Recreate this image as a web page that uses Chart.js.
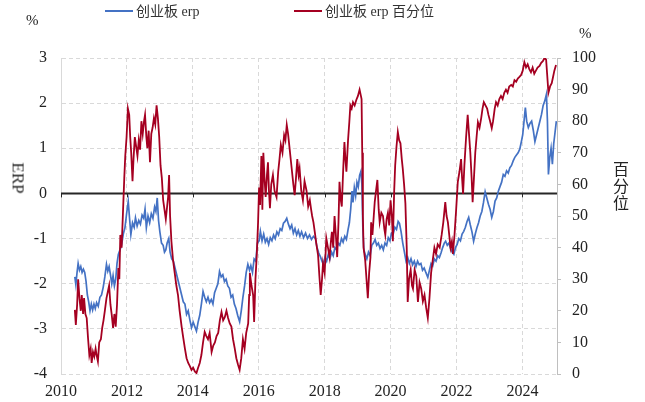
<!DOCTYPE html>
<html>
<head>
<meta charset="utf-8">
<script src="https://cdn.jsdelivr.net/npm/chart.js@4"></script>
<style>
  body { margin: 0; background: #fff; }
  #wrap { position: relative; width: 645px; height: 402px; font-family: 'Liberation Serif', 'Noto Sans CJK SC', serif; color: #222; }
  #wrap canvas { position: absolute; left: 0; top: 0; }
  .lab { position: absolute; white-space: nowrap; }
  .leg { position: absolute; top: 2px; font-size: 14px; line-height: 20px; color: #333; }
  .leg i { display: inline-block; width: 28px; height: 2px; vertical-align: middle; margin-right: 3px; position: relative; top: -2px; }
</style>
</head>
<body>
<div id="wrap">
  <canvas id="chart" width="645" height="402"></canvas>
  <div class="leg" style="left:105px"><i style="background:#4472C4"></i>创业板 erp</div>
  <div class="leg" style="left:294px"><i style="background:#A50021"></i>创业板 erp 百分位</div>
  <div class="lab" style="left:26px; top:12px; font-size:15px">%</div>
  <div class="lab" style="left:579px; top:25px; font-size:15px">%</div>
  <div class="lab" style="left:2px; top:168px; font-size:17px; font-weight:normal; transform: rotate(90deg); transform-origin: 50% 50%;">ERP</div>
  <div class="lab" style="left:613px; top:160px; font-size:16px; line-height:17px; font-family:'Noto Sans CJK SC', sans-serif; white-space:normal; width:17px">百<br>分<br>位</div>
</div>
<script>
/* ── 数据 ── */
const xTicks = [2010, 2012, 2014, 2016, 2018, 2020, 2022, 2024];
const leftTicks  = [-4, -3, -2, -1, 0, 1, 2, 3];
const rightTicks = [0, 10, 20, 30, 40, 50, 60, 70, 80, 90, 100];

const erpYears = [
  2010.42,2010.45,2010.49,2010.52,2010.56,2010.60,2010.64,2010.68,2010.72,2010.76,2010.80,2010.84,2010.88,2010.92,2010.96,
  2011.00,2011.04,2011.08,2011.13,2011.18,2011.23,2011.28,2011.33,2011.38,2011.42,2011.46,2011.50,2011.54,2011.58,2011.62,
  2011.66,2011.70,2011.74,2011.79,2011.84,2011.89,2011.94,2011.99,2012.04,2012.08,2012.12,2012.17,2012.22,2012.26,2012.31,
  2012.36,2012.41,2012.46,2012.51,2012.55,2012.59,2012.64,2012.69,2012.74,2012.79,2012.84,2012.88,2012.92,2012.96,2013.00,
  2013.05,2013.10,2013.14,2013.18,2013.22,2013.27,2013.31,2013.36,2013.41,2013.46,2013.51,2013.56,2013.61,2013.66,2013.71,
  2013.76,2013.81,2013.86,2013.91,2013.96,2014.01,2014.06,2014.11,2014.16,2014.21,2014.26,2014.31,2014.36,2014.41,2014.46,
  2014.51,2014.56,2014.61,2014.66,2014.71,2014.76,2014.81,2014.86,2014.91,2014.96,2015.01,2015.06,2015.11,2015.16,2015.21,
  2015.26,2015.31,2015.36,2015.42,2015.47,2015.52,2015.57,2015.62,2015.67,2015.72,2015.76,2015.81,2015.86,2015.91,2015.96,
  2016.01,2016.05,2016.10,2016.15,2016.20,2016.25,2016.30,2016.35,2016.40,2016.45,2016.50,2016.55,2016.60,2016.65,2016.70,
  2016.75,2016.80,2016.85,2016.90,2016.95,2017.00,2017.05,2017.10,2017.15,2017.20,2017.25,2017.30,2017.36,2017.42,2017.48,
  2017.54,2017.60,2017.66,2017.72,2017.77,2017.82,2017.87,2017.92,2017.96,2018.01,2018.06,2018.11,2018.16,2018.21,2018.26,
  2018.31,2018.36,2018.41,2018.46,2018.51,2018.56,2018.61,2018.66,2018.71,2018.75,2018.79,2018.83,2018.86,2018.90,2018.94,
  2018.98,2019.02,2019.06,2019.10,2019.13,2019.16,2019.19,2019.23,2019.28,2019.33,2019.38,2019.43,2019.48,2019.53,2019.58,
  2019.63,2019.68,2019.73,2019.78,2019.83,2019.88,2019.93,2019.98,2020.03,2020.08,2020.13,2020.18,2020.23,2020.27,2020.32,
  2020.37,2020.42,2020.47,2020.52,2020.57,2020.62,2020.67,2020.72,2020.77,2020.82,2020.87,2020.92,2020.97,2021.02,2021.07,
  2021.13,2021.18,2021.23,2021.28,2021.33,2021.38,2021.43,2021.48,2021.53,2021.58,2021.63,2021.67,2021.72,2021.77,2021.82,
  2021.87,2021.92,2021.97,2022.02,2022.07,2022.12,2022.17,2022.22,2022.27,2022.32,2022.37,2022.42,2022.47,2022.52,2022.57,
  2022.62,2022.67,2022.72,2022.77,2022.82,2022.87,2022.92,2022.97,2023.02,2023.07,2023.12,2023.17,2023.22,2023.27,2023.32,
  2023.37,2023.42,2023.47,2023.52,2023.57,2023.62,2023.67,2023.72,2023.77,2023.82,2023.87,2023.92,2023.97,2024.01,2024.05,
  2024.09,2024.13,2024.18,2024.23,2024.28,2024.33,2024.38,2024.43,2024.48,2024.53,2024.58,2024.63,2024.68,2024.73,2024.76,
  2024.79,2024.83,2024.87,2024.91,2024.95,2024.99,2025.03
];
const erpValues = [
  -1.85,-2.02,-1.73,-1.55,-1.70,-1.62,-1.75,-1.68,-1.75,-1.95,-2.25,-2.40,-2.60,-2.45,-2.58,
  -2.45,-2.55,-2.42,-2.50,-2.30,-2.25,-2.08,-1.85,-1.57,-1.72,-1.62,-1.80,-2.00,-1.82,-2.05,
  -1.90,-1.55,-1.35,-1.25,-1.13,-0.90,-0.76,-0.45,-0.18,-0.55,-0.91,-0.65,-0.75,-0.54,-0.72,
  -0.60,-0.68,-0.48,-0.55,-0.35,-0.76,-0.50,-0.65,-0.45,-0.55,-0.30,-0.40,-0.10,-0.60,-0.85,
  -1.10,-1.15,-1.30,-1.25,-1.10,-1.00,-1.30,-1.45,-1.50,-1.65,-1.80,-1.95,-2.10,-2.25,-2.40,
  -2.45,-2.68,-2.60,-2.80,-2.97,-2.85,-2.95,-3.05,-2.85,-2.70,-2.45,-2.17,-2.30,-2.40,-2.30,
  -2.42,-2.35,-2.45,-2.20,-2.10,-2.00,-1.73,-1.85,-1.80,-1.95,-1.90,-2.05,-2.10,-2.30,-2.25,
  -2.45,-2.55,-2.70,-2.84,-2.60,-2.30,-2.05,-1.75,-1.57,-1.70,-1.60,-1.75,-1.45,-1.50,-1.10,
  -1.05,-0.84,-1.05,-0.90,-1.08,-1.00,-1.13,-0.98,-1.05,-0.92,-1.00,-0.85,-0.92,-0.78,-0.82,
  -0.66,-0.62,-0.55,-0.68,-0.78,-0.70,-0.88,-0.78,-0.92,-0.82,-0.95,-0.85,-0.98,-0.88,-1.00,
  -0.92,-1.02,-0.95,-1.00,-1.20,-1.32,-1.40,-1.50,-1.57,-1.42,-1.50,-1.35,-1.45,-1.30,-1.38,
  -1.20,-1.25,-1.10,-1.15,-1.00,-1.08,-0.95,-1.02,-0.80,-0.65,-0.35,0.05,-0.20,0.13,-0.05,
  0.25,0.15,0.40,0.49,0.20,-0.80,-1.25,-1.35,-1.45,-1.30,-1.38,-1.15,-1.10,-1.02,-1.15,
  -1.10,-1.22,-1.15,-1.25,-1.10,-1.15,-0.98,-1.05,-0.88,-0.90,-0.75,-0.80,-0.62,-0.66,-0.85,
  -1.10,-1.30,-1.50,-1.42,-1.55,-1.45,-1.58,-1.50,-1.62,-1.50,-1.58,-1.55,-1.70,-1.65,-1.75,
  -1.86,-1.70,-1.55,-1.60,-1.45,-1.50,-1.38,-1.42,-1.32,-1.20,-1.10,-1.06,-1.15,-1.10,-1.22,
  -1.30,-1.35,-1.20,-1.13,-1.00,-1.05,-0.90,-0.84,-0.75,-0.62,-0.53,-0.70,-0.85,-1.06,-0.90,
  -0.76,-0.65,-0.50,-0.40,-0.20,0.04,-0.10,-0.24,-0.35,-0.53,-0.40,-0.17,-0.10,0.05,0.15,
  0.25,0.42,0.38,0.50,0.45,0.57,0.62,0.72,0.80,0.85,0.90,0.98,1.15,1.30,1.60,
  1.90,1.60,1.46,1.55,1.60,1.40,1.15,1.30,1.45,1.60,1.75,1.95,2.05,2.20,1.60,
  0.42,0.80,1.00,0.65,1.10,1.35,1.60
];

const pctYears = [
  2010.42,2010.45,2010.49,2010.52,2010.56,2010.60,2010.63,2010.67,2010.70,2010.74,2010.78,2010.82,2010.86,2010.90,2010.93,
  2010.97,2011.01,2011.05,2011.08,2011.12,2011.16,2011.21,2011.25,2011.29,2011.33,2011.38,2011.42,2011.46,2011.50,2011.54,
  2011.58,2011.62,2011.66,2011.70,2011.74,2011.77,2011.80,2011.84,2011.88,2011.92,2011.95,2011.99,2012.03,2012.07,2012.10,
  2012.13,2012.17,2012.20,2012.24,2012.28,2012.32,2012.36,2012.40,2012.44,2012.48,2012.52,2012.55,2012.59,2012.62,2012.66,
  2012.70,2012.74,2012.78,2012.82,2012.86,2012.90,2012.94,2012.98,2013.02,2013.06,2013.10,2013.14,2013.18,2013.22,2013.25,
  2013.28,2013.31,2013.35,2013.40,2013.45,2013.50,2013.55,2013.60,2013.66,2013.71,2013.76,2013.81,2013.86,2013.91,2013.96,
  2014.01,2014.06,2014.11,2014.16,2014.21,2014.26,2014.31,2014.36,2014.41,2014.46,2014.51,2014.57,2014.62,2014.67,2014.72,
  2014.77,2014.82,2014.87,2014.92,2014.97,2015.02,2015.07,2015.12,2015.17,2015.22,2015.27,2015.32,2015.37,2015.42,2015.47,
  2015.52,2015.57,2015.62,2015.68,2015.71,2015.73,2015.78,2015.83,2015.86,2015.90,2015.94,2015.98,2016.01,2016.04,2016.08,
  2016.11,2016.14,2016.18,2016.21,2016.25,2016.28,2016.31,2016.34,2016.38,2016.43,2016.48,2016.54,2016.59,2016.63,2016.67,
  2016.72,2016.77,2016.81,2016.85,2016.89,2016.94,2016.98,2017.01,2017.05,2017.09,2017.13,2017.17,2017.21,2017.24,2017.29,
  2017.34,2017.39,2017.45,2017.50,2017.55,2017.59,2017.62,2017.66,2017.70,2017.75,2017.80,2017.84,2017.88,2017.92,2017.95,
  2018.00,2018.05,2018.10,2018.15,2018.19,2018.22,2018.26,2018.30,2018.34,2018.38,2018.42,2018.45,2018.49,2018.52,2018.56,
  2018.60,2018.63,2018.66,2018.69,2018.71,2018.75,2018.78,2018.82,2018.86,2018.91,2018.96,2019.01,2019.06,2019.10,2019.12,
  2019.14,2019.16,2019.18,2019.23,2019.27,2019.31,2019.35,2019.39,2019.41,2019.45,2019.49,2019.52,2019.56,2019.60,2019.64,
  2019.67,2019.72,2019.77,2019.81,2019.84,2019.88,2019.92,2019.96,2020.00,2020.04,2020.07,2020.11,2020.14,2020.18,2020.22,
  2020.26,2020.30,2020.34,2020.37,2020.41,2020.45,2020.49,2020.52,2020.56,2020.61,2020.65,2020.68,2020.73,2020.78,2020.83,
  2020.88,2020.93,2020.98,2021.03,2021.08,2021.13,2021.18,2021.23,2021.28,2021.33,2021.38,2021.43,2021.49,2021.55,2021.60,
  2021.66,2021.70,2021.74,2021.78,2021.82,2021.86,2021.89,2021.94,2021.99,2022.04,2022.09,2022.14,2022.17,2022.20,2022.24,
  2022.29,2022.34,2022.38,2022.42,2022.46,2022.49,2022.53,2022.57,2022.61,2022.65,2022.70,2022.75,2022.79,2022.83,2022.88,
  2022.93,2022.97,2023.02,2023.07,2023.11,2023.16,2023.20,2023.25,2023.30,2023.35,2023.40,2023.45,2023.50,2023.55,2023.60,
  2023.66,2023.71,2023.76,2023.81,2023.86,2023.91,2023.96,2024.01,2024.06,2024.11,2024.16,2024.21,2024.26,2024.31,2024.36,
  2024.41,2024.46,2024.52,2024.57,2024.62,2024.67,2024.72,2024.75,2024.79,2024.84,2024.89,2024.93,2024.97,2025.02
];
const pctValues = [
  20.3,15.5,22,30,24,20,25,19,24,19,17.7,11.4,6,8,3.5,
  7,5.5,8,6,4,10,11,14.6,17,20,24,26,28,22,18.7,
  14.6,19,15,22,33.5,30,44,40,51,62,69,75,84,82,75,
  70,61,68,75,72,69,74,71,80,76,80,82,75,71.5,77,
  67,76,78,81,79,85,81,75,66,62,55,52,49,53,56,
  63,50,42,36,32,28,25,20,15,11.4,8,5,3.5,2.5,1.3,
  2,0.8,0.3,2,3.5,6,10,13.3,12,11,13,7,9,10,12,
  13,17,19.6,17,18,20,17.7,16,15,11,8.2,5,3,1.3,5,
  11,8,13,16,25,32,28,25,16.5,30,37.6,48,59,53.5,69,
  52,70,61,56,63,67,58,52.5,60,63,58,56,64,68,72.5,
  70,75.6,74,78.8,76,71,67,64,60,56.6,62,68,63,65,58,
  55,61,58,53,55,52,50,48,45,41,37.6,31,25,30,35,
  32,43,40,37,42,45,40,50,44,37,48,60.8,55,53,64,
  73.4,68,64,70,74,80,85,84,86,85,86.7,88,90,88,87,
  70,50,40,36,30,24,32,37,48,44,50,54.5,58,61.4,52,
  48,51,50,46,44,49,51,47,55,50,42,58,66,72,76.6,
  74,73,68,65,60,54,40,22.8,30,33,28,27,33,31,22.8,
  29,27,23,25,21,17.7,24,32,36,40,38,41,40,44,48,
  54.4,50,48,44,40,42,38,44,52,60.8,64,68,62,57,66,
  74.7,82,76,70,62,54.4,62,70,75,79.7,78,81,84,86,85,
  84,82,80,77.8,80,84,86,85,87,88,87,89,90,89,91,
  91.5,91,93,92.5,93.5,94,94.6,96,98.7,97,98,96.5,95.5,97,95,
  96,97,97.5,98.5,99,100,99.5,95,89,91,92,94,96,97.8
];

const toPoints = (xs, ys) => xs.map((x, i) => ({ x, y: ys[i] }));

/* 零轴黑线 + 年份小刻度 */
const zeroLine = {
  id: 'zeroLine',
  beforeDatasetsDraw(chart) {
    const { ctx, chartArea: a, scales } = chart;
    const y0 = scales.y.getPixelForValue(0);
    ctx.save();
    ctx.strokeStyle = '#262626';
    ctx.lineWidth = 2;
    ctx.beginPath();
    ctx.moveTo(a.left, y0);
    ctx.lineTo(a.right, y0);
    ctx.stroke();
    ctx.lineWidth = 1;
    xTicks.forEach(v => {
      const x = Math.round(scales.x.getPixelForValue(v)) + 0.5;
      ctx.beginPath();
      ctx.moveTo(x, y0);
      ctx.lineTo(x, y0 + 4);
      ctx.stroke();
    });
    ctx.restore();
  },
};

const tickFont = { family: "'Liberation Serif', serif", size: 16 };
const gridGrey = '#d9d9d9';

new Chart(document.getElementById('chart'), {
  type: 'line',
  data: {
    datasets: [
      {
        label: '创业板 erp',
        data: toPoints(erpYears, erpValues),
        yAxisID: 'y',
        borderColor: '#4472C4',
        borderWidth: 1.7,
        pointRadius: 0,
        order: 1,
      },
      {
        label: '创业板 erp 百分位',
        data: toPoints(pctYears, pctValues),
        yAxisID: 'y1',
        borderColor: '#A50021',
        borderWidth: 1.8,
        pointRadius: 0,
        order: 0,
      },
    ],
  },
  options: {
    responsive: false,
    animation: false,
    layout: { padding: { top: 58, right: 0, bottom: 0, left: 0 } },
    plugins: { legend: { display: false }, tooltip: { enabled: false } },
    scales: {
      x: {
        type: 'linear',
        min: 2010,
        max: 2025.05,
        afterBuildTicks: s => { s.ticks = xTicks.map(v => ({ value: v })); },
        afterFit: s => { s.height = 28; },
        ticks: { font: tickFont, color: '#222', padding: 8, maxRotation: 0, autoSkip: false, callback: v => String(v) },
        grid: { color: gridGrey, lineWidth: 1, drawTicks: false },
        border: { display: false, dash: [4, 3] },
      },
      y: {
        position: 'left',
        min: -4,
        max: 3,
        afterBuildTicks: s => { s.ticks = leftTicks.map(v => ({ value: v })); },
        afterFit: s => { s.width = 61; },
        ticks: { font: tickFont, color: '#222', padding: 14 },
        grid: { color: c => (c.tick && c.tick.value === 0 ? 'rgba(0,0,0,0)' : gridGrey), drawTicks: false },
        border: { display: true, color: gridGrey, width: 1, dash: [4, 3] },
      },
      y1: {
        position: 'right',
        min: 0,
        max: 100,
        afterBuildTicks: s => { s.ticks = rightTicks.map(v => ({ value: v })); },
        afterFit: s => { s.width = 88; },
        ticks: { font: tickFont, color: '#222', padding: 11 },
        grid: { drawOnChartArea: false, drawTicks: true, tickLength: 4, color: '#bfbfbf' },
        border: { display: true, color: '#bfbfbf', width: 1 },
      },
    },
  },
  plugins: [zeroLine],
});
</script>
</body>
</html>
